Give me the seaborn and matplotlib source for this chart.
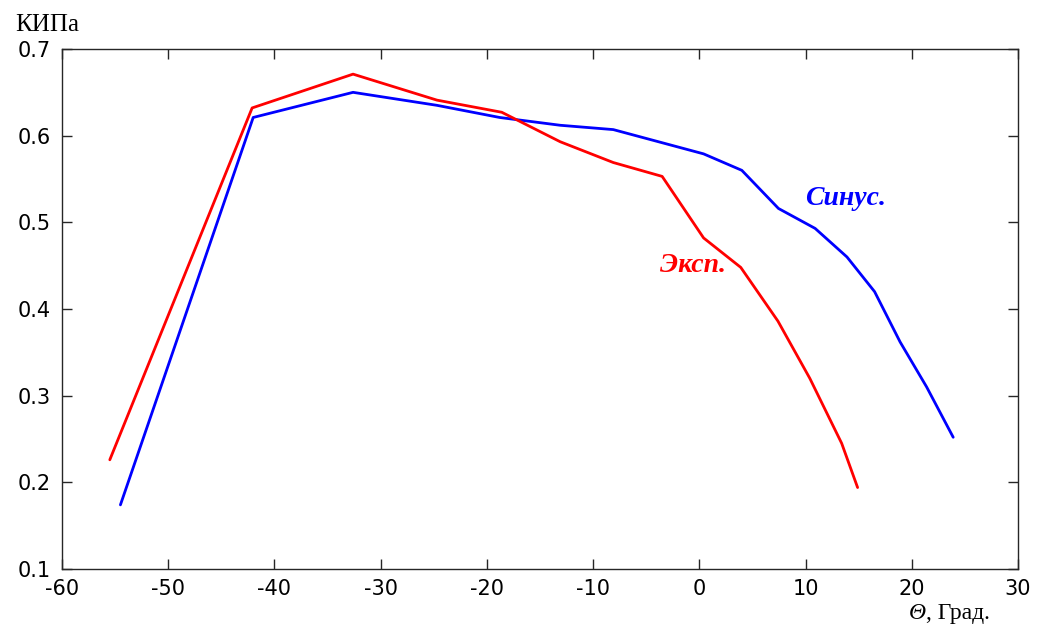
import matplotlib
matplotlib.use("Agg")
import matplotlib.pyplot as plt
import seaborn as sns
import pandas as pd

# Эксп. (red)
exp_theta = [-55.5, -42.1, -32.6, -24.7, -18.6, -13.1, -8.1, -3.5, 0.4, 3.9, 7.4, 10.4, 13.4, 14.9]
exp_kipa = [0.226, 0.632, 0.671, 0.641, 0.627, 0.593, 0.569, 0.553, 0.482, 0.448, 0.386, 0.320, 0.245, 0.194]

# Синус. (blue)
sin_theta = [-54.5, -42.0, -32.6, -24.7, -18.8, -13.1, -8.1, 0.4, 4.0, 7.45, 10.9, 13.9, 16.5, 18.9, 21.4, 23.9]
sin_kipa = [0.174, 0.621, 0.650, 0.635, 0.621, 0.612, 0.607, 0.579, 0.560, 0.516, 0.493, 0.460, 0.420, 0.362, 0.310, 0.252]

x_ticks = [-60, -50, -40, -30, -20, -10, 0, 10, 20, 30]
y_ticks = [0.1, 0.2, 0.3, 0.4, 0.5, 0.6, 0.7]

sns.set_theme(style="white")
plt.rcParams["font.family"] = ["DejaVu Sans"]

df_exp = pd.DataFrame({"theta": exp_theta, "kipa": exp_kipa})
df_sin = pd.DataFrame({"theta": sin_theta, "kipa": sin_kipa})

fig = plt.figure(figsize=(10.38, 6.3), dpi=100)
ax = fig.add_axes([62 / 1038, 1 - 569 / 630, (1018 - 62) / 1038, (569 - 49) / 630])

sns.lineplot(data=df_sin, x="theta", y="kipa", color="#0000ff", lw=2.0, sort=False, ax=ax)
sns.lineplot(data=df_exp, x="theta", y="kipa", color="#ff0000", lw=2.0, sort=False, ax=ax)

ax.set_xlim(-60, 30)
ax.set_ylim(0.1, 0.7)
ax.set_xticks(x_ticks)
ax.set_yticks(y_ticks)
ax.set_xticklabels([str(t) for t in x_ticks])
ax.set_yticklabels([f"{t:.1f}" for t in y_ticks])
ax.set_xlabel("")
ax.set_ylabel("")
ax.tick_params(direction="in", length=7, width=1, colors="#262626",
               labelcolor="black", labelsize=15,
               top=True, right=True, bottom=True, left=True)
ax.tick_params(axis="x", pad=7)
ax.tick_params(axis="y", pad=8)
for s in ax.spines.values():
    s.set_color("#262626")
    s.set_linewidth(1)

serif = ["Liberation Serif", "DejaVu Serif"]
ax.text(9.96, 0.528, "Синус.", color="#0000ff", fontsize=20, family=serif,
        fontweight="bold", fontstyle="italic", va="center", ha="left")
ax.text(-3.7, 0.450, "Эксп.", color="#ff0000", fontsize=20, family=serif,
        fontweight="bold", fontstyle="italic", va="center", ha="left")

fig.text(15 / 1038, 1 - 31 / 630, "КИПа", fontsize=18, family=serif,
         color="black", ha="left", va="baseline")
theta = fig.text(909 / 1038, 1 - 619 / 630, "Θ", fontsize=17, family=serif,
                 color="black", fontstyle="italic", ha="left", va="baseline")
ax.annotate(", Град.", xy=(1, 0), xycoords=theta, fontsize=17, family=serif,
            color="black", ha="left", va="bottom", annotation_clip=False)

fig.savefig("out.png", dpi=100)
